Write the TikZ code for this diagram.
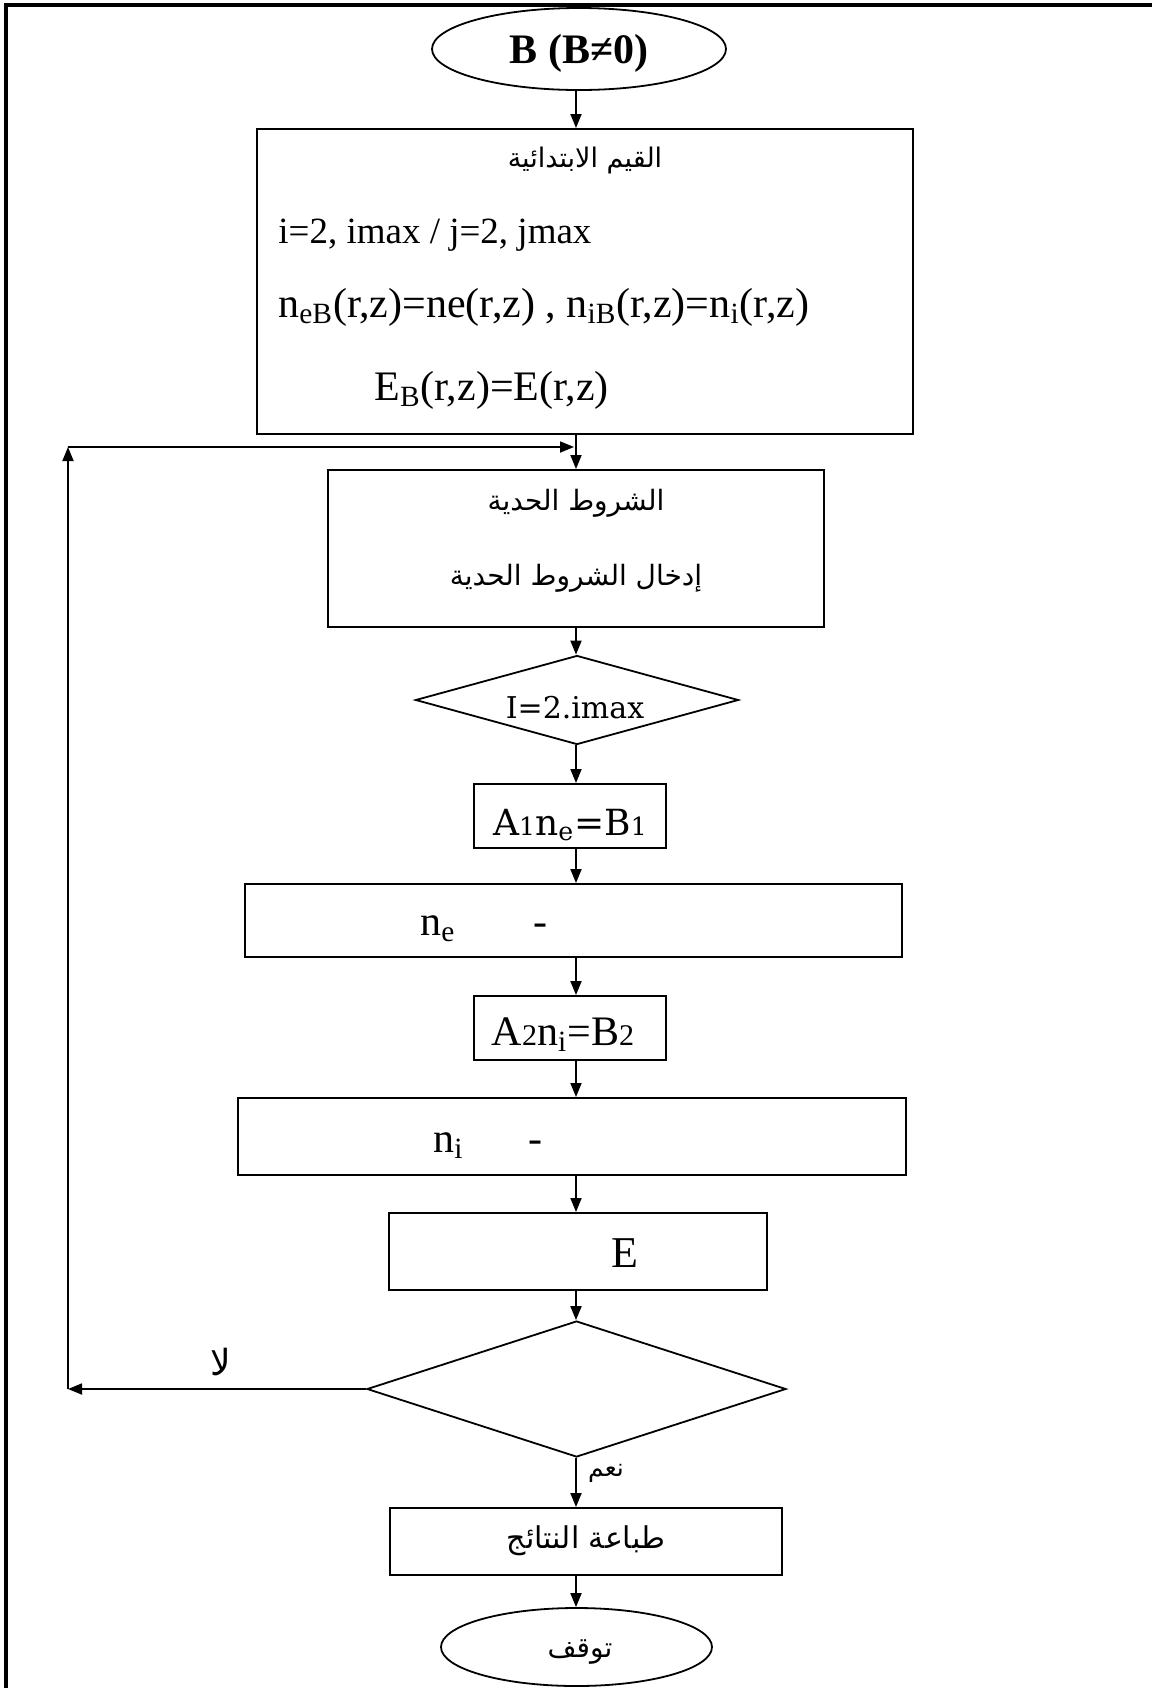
\documentclass[tikz,border=0pt]{standalone}
\usepackage{fontspec}
\setmainfont{Liberation Serif}
\newfontfamily\arabicfont[Script=Arabic]{DejaVu Sans}
\newfontfamily\cambriaish{DejaVu Serif}
\TeXXeTstate=1
\usetikzlibrary{shapes.geometric, arrows.meta}

\newcommand{\artext}[1]{{\arabicfont\beginR #1\endR}}
\newcommand{\fs}[1]{\fontsize{#1}{#1}\selectfont}

\tikzset{
  box/.style = {draw, line width=1pt, rectangle, inner sep=0pt},
  term/.style = {draw, line width=0.9pt, ellipse, inner sep=0pt},
  decision/.style = {draw, line width=0.9pt, diamond, inner sep=0pt},
  arr/.style = {line width=0.9pt, -{Triangle[length=7pt, width=5.5pt]}},
  lbl/.style = {inner sep=0pt, anchor=base},
  lblw/.style = {inner sep=0pt, anchor=base west},
}

\begin{document}
\begin{tikzpicture}[x=0.5pt, y=-0.5pt]
\useasboundingbox (0,0) rectangle (1152,1688);
\draw[line width=1.6pt] (6,1688) -- (6,5) -- (1152,5);

\coordinate (spine) at (576,0);

\node[term, minimum width=147pt, minimum height=41pt] (start) at (579,49) {};
\node[lbl, font=\fs{21pt}\bfseries] (starttxt) at (579,63) {B (B≠0)};

\node[box, minimum width=328pt, minimum height=152.5pt] (init) at (585,281.5) {};
\node[lbl, font=\fs{13.5pt}] (inittitle) at (585,167) {\artext{القيم الابتدائية}};
\node[lblw, font=\fs{18.5pt}] (initidx) at (278,243) {i=2, imax / j=2, jmax};
\node[lblw, font=\fs{21pt}] (initn) at (278,317) {n\textsubscript{eB}(r,z)=ne(r,z) , n\textsubscript{iB}(r,z)=n\textsubscript{i}(r,z)};
\node[lblw, font=\fs{21pt}] (inite) at (374,400) {E\textsubscript{B}(r,z)=E(r,z)};

\node[box, minimum width=248pt, minimum height=78.5pt] (bound) at (576,548.5) {};
\node[lbl, font=\fs{14pt}] (boundtitle) at (576,510) {\artext{الشروط الحدية}};
\node[lbl, font=\fs{14pt}] (boundtxt) at (576,585) {\artext{إدخال الشروط الحدية}};

\node[decision, minimum width=161.5pt, minimum height=44.5pt] (loopi) at (577,700) {};
\node[lbl, font=\fs{15pt}\cambriaish] (loopitxt) at (575,718) {I=2.imax};

\node[box, minimum width=96pt, minimum height=32pt] (sysone) at (570,816) {};
\node[lbl, font=\fs{18pt}\cambriaish] (sysonetxt) at (570,835) {A{\fs{12.5pt}1}n\textsubscript{e}=B{\fs{12.5pt}1}};

\node[box, minimum width=328.5pt, minimum height=36.5pt] (solne) at (573.5,920.5) {};
\node[lblw, font=\fs{21pt}] (solnetxt) at (420,935) {n\textsubscript{e}};
\node[lbl, font=\fs{21pt}] (solnedash) at (540,935) {-};

\node[box, minimum width=96pt, minimum height=32pt] (systwo) at (570,1028) {};
\node[lbl, font=\fs{21pt}] (systwotxt) at (563,1045) {A{\fs{15pt}2}n\textsubscript{i}=B{\fs{15pt}2}};

\node[box, minimum width=334pt, minimum height=38.5pt] (solni) at (572,1136.5) {};
\node[lblw, font=\fs{21pt}] (solnitxt) at (433,1152) {n\textsubscript{i}};
\node[lbl, font=\fs{21pt}] (solnidash) at (535,1152) {-};

\node[box, minimum width=189pt, minimum height=38.5pt] (field) at (578,1251.5) {};
\node[lbl, font=\fs{22pt}] (fieldtxt) at (625,1267) {E};

\node[decision, minimum width=209.5pt, minimum height=68pt] (conv) at (576.5,1389) {};

\node[box, minimum width=196pt, minimum height=33.5pt] (print) at (586,1541.5) {};
\node[lbl, font=\fs{15pt}] (printtxt) at (586,1548) {\artext{طباعة النتائج}};

\node[term, minimum width=135.5pt, minimum height=39pt] (stop) at (576.5,1647) {};
\node[lbl, font=\fs{14pt}] (stoptxt) at (580,1657) {\artext{توقف}};

\coordinate (cornerlow) at (68,1389);
\coordinate (cornerhigh) at (68,447);
\coordinate (join) at (574,447);

\draw[arr] (start.south -| spine) -- (init.north -| spine);
\draw[arr] (init.south -| spine) -- (bound.north -| spine);
\draw[arr] (bound.south -| spine) -- (loopi.north -| spine);
\draw[arr] (loopi.south -| spine) -- (sysone.north -| spine);
\draw[arr] (sysone.south -| spine) -- (solne.north -| spine);
\draw[arr] (solne.south -| spine) -- (systwo.north -| spine);
\draw[arr] (systwo.south -| spine) -- (solni.north -| spine);
\draw[arr] (solni.south -| spine) -- (field.north -| spine);
\draw[arr] (field.south -| spine) -- (conv.north -| spine);
\draw[arr] (conv.south -| spine) -- (print.north -| spine);
\draw[arr] (print.south -| spine) -- (stop.north -| spine);

\draw[arr] (conv.west) -- (cornerlow);
\draw[arr] (cornerlow) -- (cornerhigh);
\draw[arr] (cornerhigh) -- (join);

\node[lbl, font=\fs{18pt}] (nolbl) at (221,1375) {\artext{لا}};
\node[lbl, font=\fs{12.5pt}] (yeslbl) at (606,1476) {\artext{نعم}};
\end{tikzpicture}
\end{document}
